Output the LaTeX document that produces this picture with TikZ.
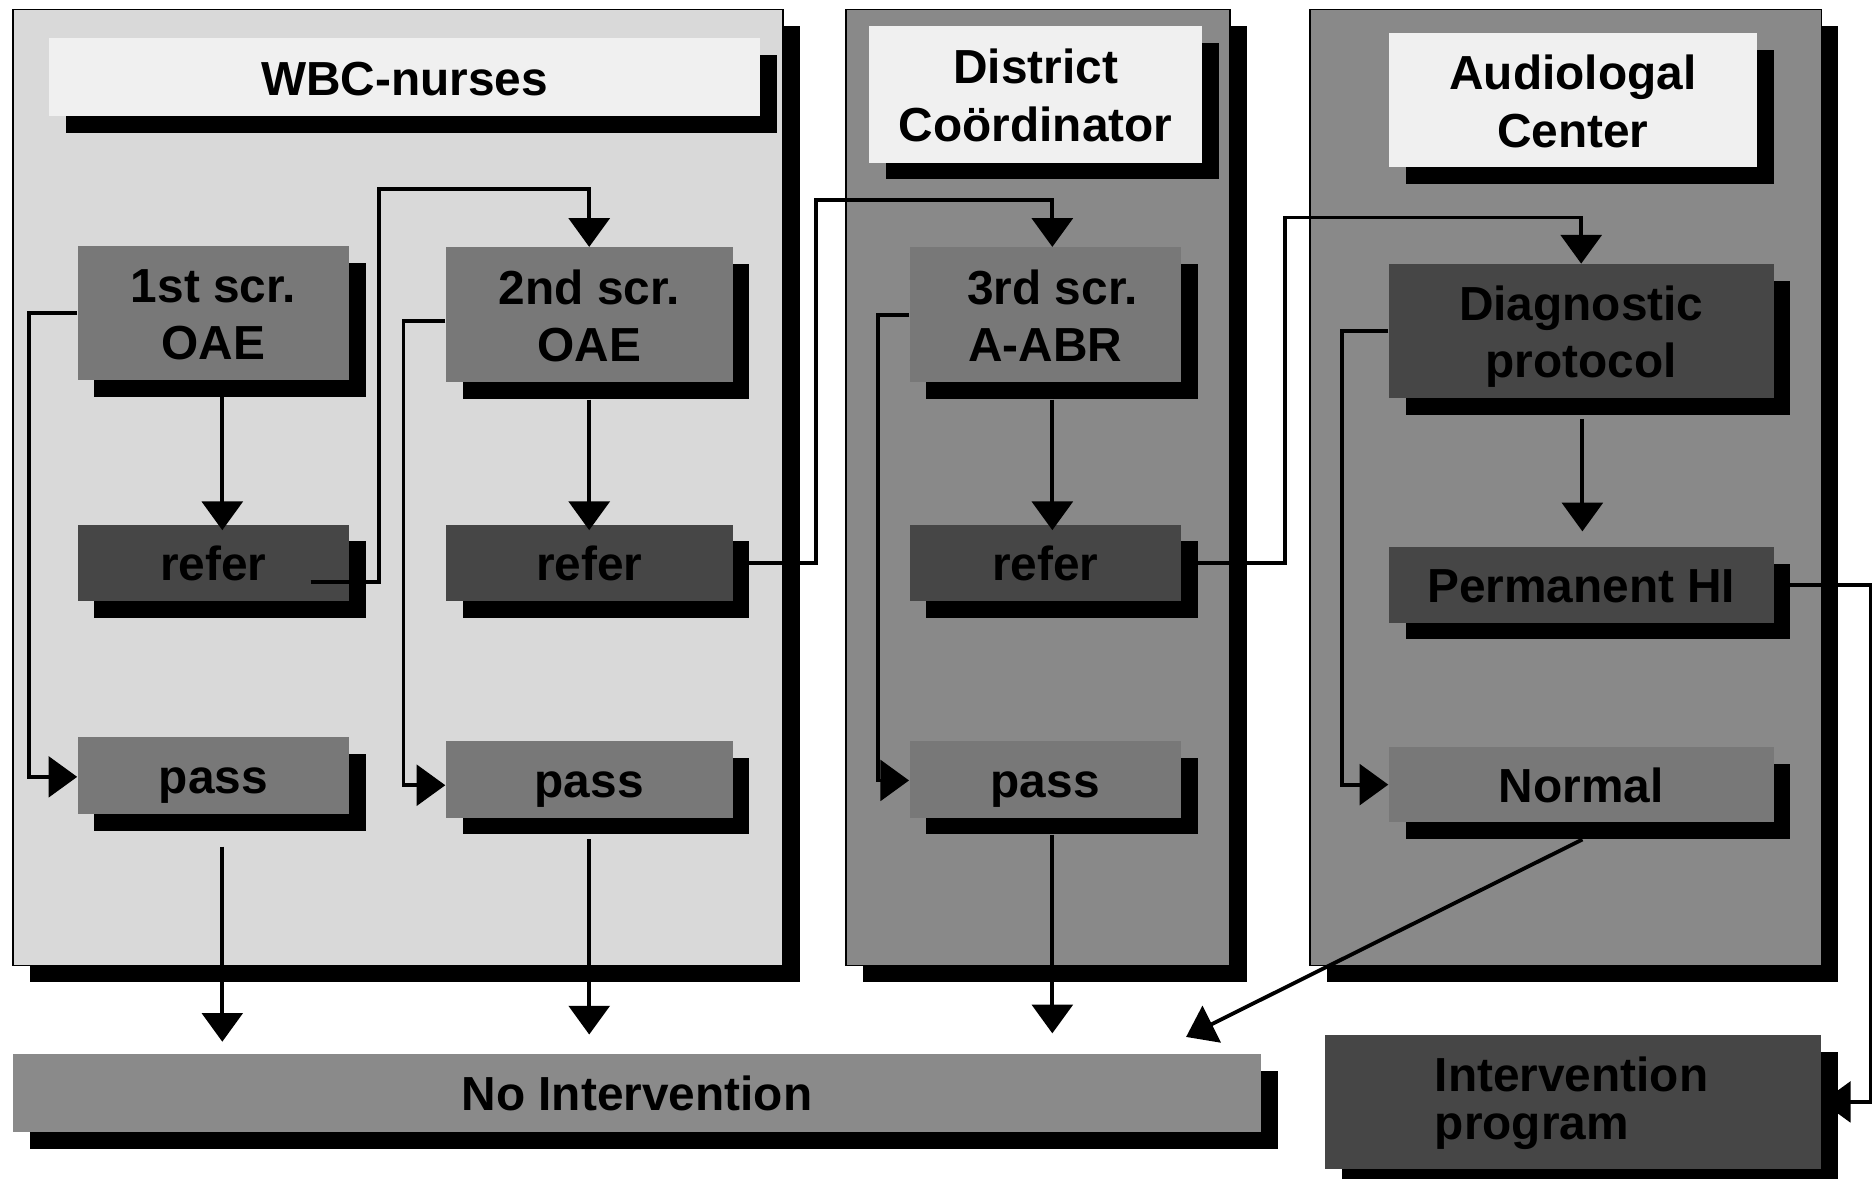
\documentclass[tikz,border=0pt]{standalone}
\usepackage{fontspec}
\setmainfont{Liberation Sans}
\usetikzlibrary{arrows.meta,shadows,calc}
\definecolor{panelA}{HTML}{D9D9D9}
\definecolor{panelB}{HTML}{898989}
\definecolor{titlefill}{HTML}{F0F0F0}
\definecolor{midbox}{HTML}{787878}
\definecolor{darkbox}{HTML}{464646}
\definecolor{nointfill}{HTML}{8A8A8A}
\begin{document}
\begin{tikzpicture}[x=0.5pt,y=-0.5pt,
  shad/.style={drop shadow={shadow xshift=7pt,shadow yshift=-7pt,fill=black,opacity=1}},
  sz/.style n args={2}{minimum width=#1*0.5pt,minimum height=#2*0.5pt},
  panel/.style={shad,draw=black,line width=0.6pt,inner sep=0pt},
  bx/.style={shad,inner sep=0pt,align=center,font=\bfseries\fontsize{20}{24}\selectfont,
    text height=15pt,text depth=0pt},
  two/.style={text height=39pt,text depth=0pt},
  tbox/.style={bx,fill=titlefill},
  mid/.style={bx,fill=midbox},
  dark/.style={bx,fill=darkbox},
  arr/.style={line width=1.6pt,-{Triangle[length=12pt,width=17pt]}}]
\fill[white] (0,0) rectangle (1568,986);
\useasboundingbox (0,0) rectangle (1568,986);
% panels
\node[panel,fill=panelA,sz={644}{800}] (P1) at (333,408) {};
\node[panel,fill=panelB,sz={321}{800}] (P2) at (868.5,408) {};
\node[panel,fill=panelB,sz={428}{800}] (P3) at (1310,408) {};
% titles
\node[tbox,sz={595}{65}] (T1) at (338.5,64.5) {WBC-nurses};
\node[tbox,two,sz={279}{114}] (T2) at (866.5,79) {District\\Coördinator};
\node[tbox,two,sz={308}{112}] (T3) at (1316,84) {Audiologal\\Center};
% boxes
\node[mid,two,sz={227}{112}] (s1) at (178.5,262) {1st scr.\\OAE};
\node[mid,two,sz={240}{113}] (s2) at (493,263.5) {2nd scr.\\OAE};
\node[mid,two,sz={227}{113}] (s3) at (874.5,263.5) {\hspace*{6pt}3rd scr.\\A-ABR};
\node[dark,sz={227}{64}] (r1) at (178.5,471) {refer};
\node[dark,sz={240}{64}] (r2) at (493,471) {refer};
\node[dark,sz={227}{64}] (r3) at (874.5,471) {refer};
\node[mid,sz={227}{64}] (p1) at (178.5,649) {pass};
\node[mid,sz={240}{64}] (p2) at (493,652) {pass};
\node[mid,sz={227}{64}] (p3) at (874.5,652) {pass};
\node[dark,two,sz={322}{112}] (dg) at (1323,277) {Diagnostic\\protocol};
\node[dark,sz={322}{63}] (hi) at (1323,489.5) {Permanent HI};
\node[mid,sz={322}{63}] (nm) at (1323,656.5) {Normal};
\node[bx,fill=nointfill,sz={1044}{65}] (ni) at (533,914.5) {No Intervention};
\node[dark,sz={415}{112},text height=20pt,text depth=28.8pt,text width=116pt,align=left] (ip) at (1316.5,922) {Intervention\\[-4pt]program};
% bend points
\coordinate (k1) at (317,158);
\coordinate (k2) at (683,167);
\coordinate (k3) at (1075,182);
\coordinate (k4) at (1565,922);
% connectors
\draw[arr] ($(s1.south)+(7.5,14)$) -- ($(r1.north)+(7.5,5)$);
\draw[arr] (s1.west) -- ++(-40,0) |- ($(p1.west)+(0,1)$);
\draw[arr] ($(r1.center)+(81.5,16)$) -| (k1) -| (s2.north);
\draw[arr] ($(s2.south)+(0,14)$) -- ($(r2.north)+(0,5)$);
\draw[arr] ($(s2.west)+(0,5)$) -- ++(-35,0) |- ($(p2.west)+(0,5)$);
\draw[arr] (r2.east) -| (k2) -| ($(s3.north)+(6,0)$);
\draw[arr] ($(s3.south)+(6,14)$) -- ($(r3.north)+(6,5)$);
\draw[arr] (s3.west) -- ++(-26,0) |- ($(p3.west)+(0,1)$);
\draw[arr] (r3.east) -| (k3) -| (dg.north);
\draw[arr] ($(dg.south)+(1,17)$) -- ($(hi.north)+(1,-13)$);
\draw[arr] (dg.west) -- ++(-39,0) |- (nm.west);
\draw[arr] (hi.east) -| (k4) -- (ip.east);
\draw[arr] ($(nm.south)+(1,14)$) -- ($(ni.north east)+(-63,-14)$);
\draw[arr] ($(p1.south)+(7.5,27)$) -- ($(p1.south |- ni.north)+(7.5,-10)$);
\draw[arr] ($(p2.south)+(0,18)$) -- ($(p2.south |- ni.north)+(0,-16)$);
\draw[arr] ($(p3.south)+(6,14)$) -- ($(p3.south |- ni.north)+(6,-17)$);
\end{tikzpicture}
\end{document}
